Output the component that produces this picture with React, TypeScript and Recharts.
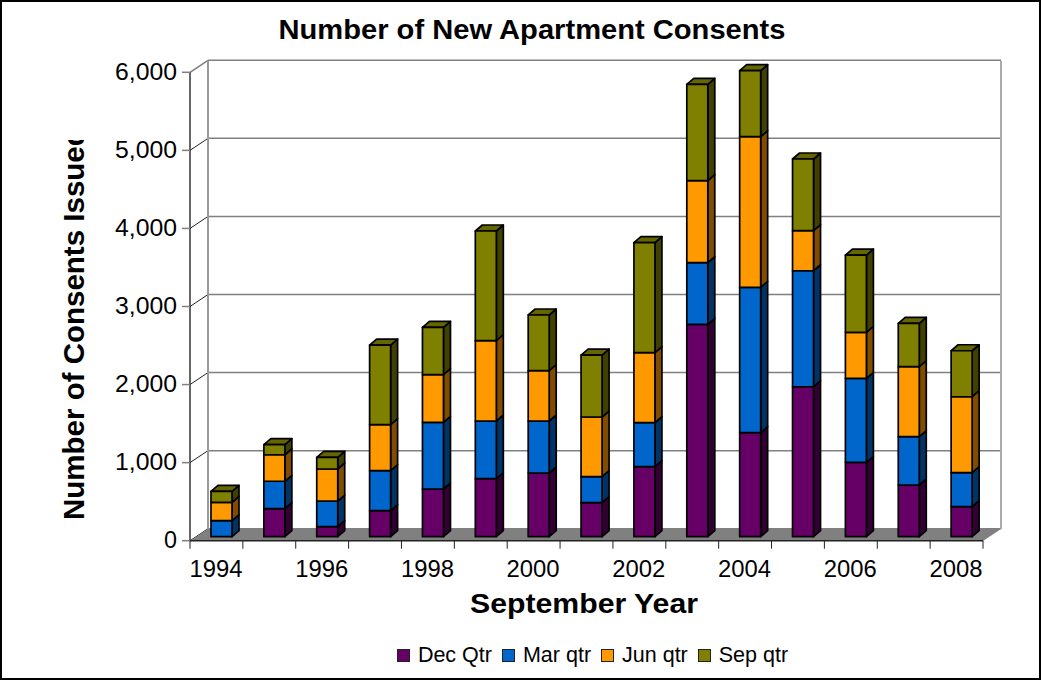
import React from 'react';
import { BarChart, Bar, XAxis, YAxis, CartesianGrid, Legend } from 'recharts';

const years = ['1994', '1995', '1996', '1997', '1998', '1999', '2000', '2001', '2002', '2003', '2004', '2005', '2006', '2007', '2008'];
const decQtr = [0, 360, 128, 333, 611, 743, 816, 436, 897, 2720, 1332, 1921, 953, 662, 384];
const marQtr = [205, 350, 329, 513, 854, 739, 666, 333, 563, 790, 1863, 1486, 1076, 619, 436];
const junQtr = [235, 340, 410, 589, 610, 1029, 645, 764, 897, 1050, 1929, 513, 589, 897, 973];
const sepQtr = [140, 130, 150, 1020, 607, 1405, 713, 794, 1409, 1235, 845, 918, 990, 555, 589];
const yTicks = [0, 1000, 2000, 3000, 4000, 5000, 6000];
const seriesNames = ['Dec Qtr', 'Mar qtr', 'Jun qtr', 'Sep qtr'];

const data = years.map((year, i) => ({
  year,
  dec: decQtr[i],
  mar: marQtr[i],
  jun: junQtr[i],
  sep: sepQtr[i],
}));

const FONT = '"Liberation Sans", Arial, sans-serif';
const GRID = '#808080';
const STEP = 793 / 15;

// the fake 3D: bars sit halfway into the floor, walls are pushed back by WALL_X / WALL_Y
const WALL_X = 18;
const WALL_Y = 12;
const SHIFT_X = 5;
const SHIFT_Y = 4;
const SIDE_X = 7;
const SIDE_Y = 6;

function Box({ x, y, width, height, fill, side, top }: any) {
  if (!height || height <= 0) return null;
  const l = x + SHIFT_X;
  const r = l + width;
  const t = y - SHIFT_Y;
  const b = t + height;
  const line = { stroke: '#000', strokeWidth: 1.7, strokeLinejoin: 'round' as const };
  return (
    <g>
      <polygon points={`${r},${b} ${r + SIDE_X},${b - SIDE_Y} ${r + SIDE_X},${t - SIDE_Y} ${r},${t}`} fill={side} {...line} />
      {top && (
        <polygon points={`${l},${t} ${r},${t} ${r + SIDE_X},${t - SIDE_Y} ${l + SIDE_X},${t - SIDE_Y}`} fill={top} {...line} />
      )}
      <rect x={l} y={t} width={width} height={height} fill={fill} {...line} />
    </g>
  );
}

function GridLine({ x1, x2, y1, index }: any) {
  const isTop = index === yTicks.length - 1;
  return (
    <g>
      <line x1={x1 + WALL_X} x2={x2 + WALL_X} y1={y1 - WALL_Y} y2={y1 - WALL_Y} stroke={GRID} strokeWidth={1.5} />
      <line x1={x1} x2={x1 + WALL_X} y1={y1} y2={y1 - WALL_Y} stroke={isTop ? GRID : '#222'} strokeWidth={isTop ? 1.5 : 1} />
    </g>
  );
}

function YearTick({ x, y, payload, index }: any) {
  const left = x - STEP / 2;
  return (
    <g>
      <line x1={left} x2={left} y1={y} y2={y + 8} stroke="#222" />
      {index === years.length - 1 && <line x1={left + STEP} x2={left + STEP} y1={y} y2={y + 8} stroke="#222" />}
      {index % 2 === 0 && (
        <text x={x - 0.5} y={y + 36} textAnchor="middle" fontFamily={FONT} fontSize={23} fill="#000" textLength={53} lengthAdjust="spacingAndGlyphs">
          {payload.value}
        </text>
      )}
    </g>
  );
}

function ValueTick({ y, payload }: any) {
  const label = payload.value.toLocaleString('en-US');
  return (
    <text x={177} y={y + 7.5} textAnchor="end" fontFamily={FONT} fontSize={23} fill="#000" textLength={label.length > 1 ? 62 : 13} lengthAdjust="spacingAndGlyphs">
      {label}
    </text>
  );
}

function LegendRow({ payload }: any) {
  return (
    <div style={{ display: 'flex', justifyContent: 'center', alignItems: 'center', fontFamily: FONT, fontSize: 21.5, color: '#000', lineHeight: '24px' }}>
      {(payload || []).map((p: any) => (
        <span key={p.value} style={{ display: 'flex', alignItems: 'center', marginRight: 10 }}>
          <span style={{ width: 11, height: 11, background: p.color, border: '1.5px solid #222', marginRight: 8 }} />
          {p.value}
        </span>
      ))}
    </div>
  );
}

export default function App() {
  return (
    <div style={{ position: 'absolute', left: 0, top: 0, width: 1041, height: 680, boxSizing: 'border-box', background: '#fff' }}>
      <BarChart
        width={1041}
        height={680}
        data={data}
        barSize={21}
        margin={{ top: 72.3, right: 58, left: 80, bottom: 59.3 }}
      >
        <defs>
          <clipPath id="ytitle-clip">
            <rect x={50} y={140} width={50} height={400} />
          </clipPath>
        </defs>
        <rect x={1} y={1} width={1039} height={678} fill="none" stroke="#000" strokeWidth={2} />
        <polygon points="190,541 983,541 1001,529 208,529" fill={GRID} />
        <line x1={208} x2={208} y1={61} y2={529} stroke="#999" strokeWidth={2} />
        <line x1={1001} x2={1001} y1={61} y2={529} stroke="#aaa" strokeWidth={2} />
        <CartesianGrid vertical={false} horizontal={(props: any) => <GridLine key={props.index} {...props} />} />
        <XAxis
          dataKey="year"
          axisLine={{ stroke: '#222', strokeWidth: 1.5 }}
          tickLine={false}
          tickSize={0}
          tickMargin={0}
          height={50}
          interval={0}
          tick={YearTick}
        />
        <YAxis
          width={110}
          domain={[0, 6000]}
          ticks={yTicks}
          axisLine={{ stroke: '#333', strokeWidth: 1.5 }}
          tickLine={{ stroke: GRID, strokeWidth: 1.5 }}
          tickSize={8}
          tick={ValueTick}
        />
        <Bar dataKey="dec" name={seriesNames[0]} stackId="a" fill="#660066" isAnimationActive={false} shape={(p: any) => <Box {...p} side="#330033" />} />
        <Bar dataKey="mar" name={seriesNames[1]} stackId="a" fill="#0066CC" isAnimationActive={false} shape={(p: any) => <Box {...p} side="#003366" />} />
        <Bar dataKey="jun" name={seriesNames[2]} stackId="a" fill="#FF9900" isAnimationActive={false} shape={(p: any) => <Box {...p} side="#804C00" />} />
        <Bar dataKey="sep" name={seriesNames[3]} stackId="a" fill="#808000" isAnimationActive={false} shape={(p: any) => <Box {...p} side="#404000" top="#666600" />} />
        <Legend
          height={30}
          content={LegendRow}
          itemSorter={(item: any) => seriesNames.indexOf(item.value)}
          wrapperStyle={{ left: 77, width: 1041, top: 643 }}
        />
        <text x={532} y={39} textAnchor="middle" fontFamily={FONT} fontWeight="bold" fontSize={27} textLength={507} lengthAdjust="spacingAndGlyphs">
          Number of New Apartment Consents
        </text>
        <text x={584} y={613} textAnchor="middle" fontFamily={FONT} fontWeight="bold" fontSize={28} textLength={228} lengthAdjust="spacingAndGlyphs">
          September Year
        </text>
        <g clipPath="url(#ytitle-clip)">
          <text transform="translate(84,520) rotate(-90)" fontFamily={FONT} fontWeight="bold" fontSize={29.5}>
            Number of Consents Issued
          </text>
        </g>
      </BarChart>
    </div>
  );
}
